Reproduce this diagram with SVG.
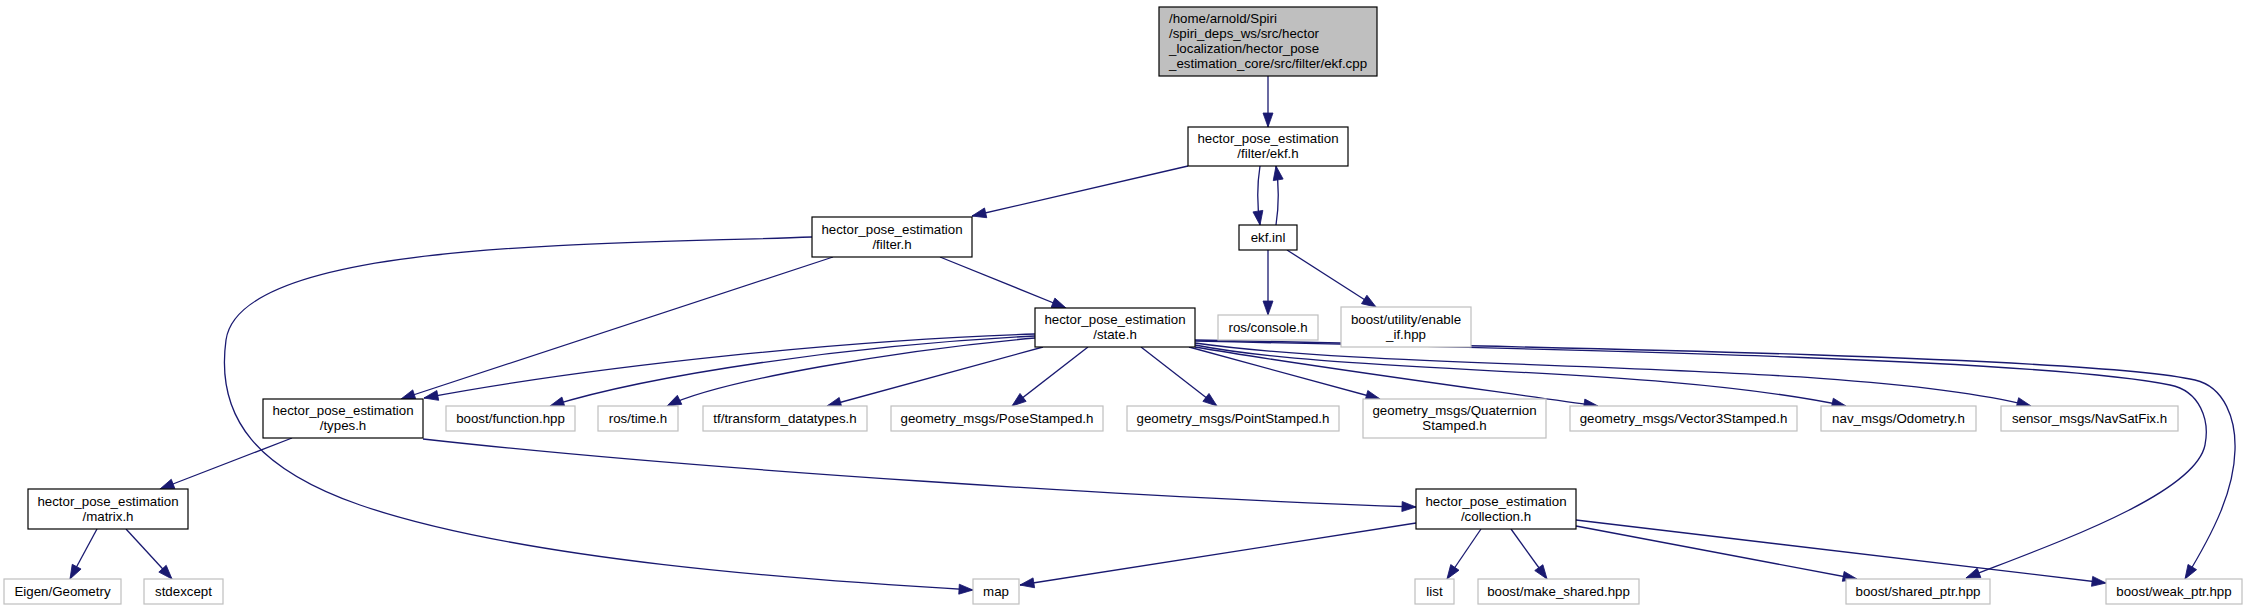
<svg xmlns="http://www.w3.org/2000/svg" width="2248" height="611" viewBox="0 0 2248 611">
<style>
  text { font-family: "Liberation Sans", Arial, Helvetica, sans-serif; font-size: 13.3px; fill: #000; }
  .c { text-anchor: middle; }
  .n rect { fill: #fff; stroke: #000; stroke-width: 1.2; }
  .r rect { fill: #bfbfbf; stroke: #000; stroke-width: 1.2; }
  .g rect { fill: #fff; stroke: #bfbfbf; stroke-width: 1.2; }
  #edges path { fill: none; stroke: #191970; stroke-width: 1.3; marker-end: url(#ah); }
</style>
<defs>
  <marker id="ah" markerWidth="15" markerHeight="11" refX="14" refY="5" orient="auto" markerUnits="userSpaceOnUse" overflow="visible">
    <path d="M0,0 L14,5 L0,10 Z" fill="#191970" stroke="#191970" stroke-width="0.8"/>
  </marker>
</defs>
<rect width="2248" height="611" fill="#fff"/>

<g id="edges">
  <path d="M1268,76 L1268,127"/>
  <path d="M1188,166 L972,216"/>
  <path d="M1260,166 C1257,185 1257,205 1260,225"/>
  <path d="M1276,225 C1279,205 1279,185 1276,166"/>
  <path d="M1268,250 L1268,315"/>
  <path d="M1287,250 L1376,307"/>
  <path d="M940,257 L1066,308"/>
  <path d="M833,257 L401,399"/>
  <path d="M812,237 C600,245 240,240 226,340 C215,420 260,470 360,505 C520,560 800,580 973,590"/>
  <path d="M1035,334 C850,340 600,365 424,398"/>
  <path d="M1035,336 C850,345 650,375 550,406"/>
  <path d="M1035,338 C900,350 720,380 667,406"/>
  <path d="M1043,347 L827,406"/>
  <path d="M1088,347 L1012,406"/>
  <path d="M1141,347 L1217,406"/>
  <path d="M1189,347 L1380,399"/>
  <path d="M1195,347 C1300,365 1450,385 1598,406"/>
  <path d="M1195,345 C1350,375 1650,365 1846,406"/>
  <path d="M1195,343 C1400,372 1850,360 2031,406"/>
  <path d="M1195,341 C1600,350 2050,360 2170,385 C2200,391 2210,420 2205,445 C2195,495 2050,545 1966,578"/>
  <path d="M1195,340 C1600,348 2100,358 2195,380 C2225,387 2236,420 2235,450 C2234,490 2215,530 2185,579"/>
  <path d="M292,438 L160,489"/>
  <path d="M423,439 C700,470 1150,498 1416,507"/>
  <path d="M97,529 L70,579"/>
  <path d="M126,529 L172,579"/>
  <path d="M1416,523 L1020,585"/>
  <path d="M1481,529 L1447,579"/>
  <path d="M1511,529 L1547,579"/>
  <path d="M1576,526 L1857,579"/>
  <path d="M1576,520 L2106,583"/>
</g>

<g id="node-ekf-cpp" class="r">
  <rect x="1159" y="7" width="218" height="69"/>
  <text x="1169" y="23">/home/arnold/Spiri</text>
  <text x="1169" y="38">/spiri_deps_ws/src/hector</text>
  <text x="1169" y="53">_localization/hector_pose</text>
  <text x="1169" y="68">_estimation_core/src/filter/ekf.cpp</text>
</g>
<g id="node-ekf-h" class="n">
  <rect x="1188" y="127" width="160" height="39"/>
  <text class="c" x="1268" y="143">hector_pose_estimation</text>
  <text class="c" x="1268" y="158">/filter/ekf.h</text>
</g>
<g id="node-filter-h" class="n">
  <rect x="812" y="217" width="160" height="40"/>
  <text class="c" x="892" y="234">hector_pose_estimation</text>
  <text class="c" x="892" y="249">/filter.h</text>
</g>
<g id="node-ekf-inl" class="n">
  <rect x="1239" y="225" width="58" height="25"/>
  <text class="c" x="1268" y="242">ekf.inl</text>
</g>
<g id="node-state-h" class="n">
  <rect x="1035" y="308" width="160" height="39"/>
  <text class="c" x="1115" y="324">hector_pose_estimation</text>
  <text class="c" x="1115" y="339">/state.h</text>
</g>
<g id="node-ros-console" class="g">
  <rect x="1218" y="315" width="100" height="25"/>
  <text class="c" x="1268" y="332">ros/console.h</text>
</g>
<g id="node-enable-if" class="g">
  <rect x="1341" y="307" width="130" height="40"/>
  <text class="c" x="1406" y="324">boost/utility/enable</text>
  <text class="c" x="1406" y="339">_if.hpp</text>
</g>
<g id="node-types-h" class="n">
  <rect x="263" y="399" width="160" height="39"/>
  <text class="c" x="343" y="415">hector_pose_estimation</text>
  <text class="c" x="343" y="430">/types.h</text>
</g>
<g id="node-boost-function" class="g">
  <rect x="446" y="406" width="129" height="25"/>
  <text class="c" x="510.5" y="423">boost/function.hpp</text>
</g>
<g id="node-ros-time" class="g">
  <rect x="598" y="406" width="80" height="25"/>
  <text class="c" x="638" y="423">ros/time.h</text>
</g>
<g id="node-tf" class="g">
  <rect x="703" y="406" width="164" height="25"/>
  <text class="c" x="785" y="423">tf/transform_datatypes.h</text>
</g>
<g id="node-pose" class="g">
  <rect x="891" y="406" width="212" height="25"/>
  <text class="c" x="997" y="423">geometry_msgs/PoseStamped.h</text>
</g>
<g id="node-point" class="g">
  <rect x="1127" y="406" width="212" height="25"/>
  <text class="c" x="1233" y="423">geometry_msgs/PointStamped.h</text>
</g>
<g id="node-quat" class="g">
  <rect x="1363" y="399" width="183" height="39"/>
  <text class="c" x="1454.5" y="415">geometry_msgs/Quaternion</text>
  <text class="c" x="1454.5" y="430">Stamped.h</text>
</g>
<g id="node-vector3" class="g">
  <rect x="1570" y="406" width="227" height="25"/>
  <text class="c" x="1683.5" y="423">geometry_msgs/Vector3Stamped.h</text>
</g>
<g id="node-odometry" class="g">
  <rect x="1821" y="406" width="155" height="25"/>
  <text class="c" x="1898.5" y="423">nav_msgs/Odometry.h</text>
</g>
<g id="node-navsatfix" class="g">
  <rect x="2001" y="406" width="177" height="25"/>
  <text class="c" x="2089.5" y="423">sensor_msgs/NavSatFix.h</text>
</g>
<g id="node-matrix-h" class="n">
  <rect x="28" y="489" width="160" height="40"/>
  <text class="c" x="108" y="506">hector_pose_estimation</text>
  <text class="c" x="108" y="521">/matrix.h</text>
</g>
<g id="node-collection-h" class="n">
  <rect x="1416" y="489" width="160" height="40"/>
  <text class="c" x="1496" y="506">hector_pose_estimation</text>
  <text class="c" x="1496" y="521">/collection.h</text>
</g>
<g id="node-eigen" class="g">
  <rect x="4" y="579" width="117" height="25"/>
  <text class="c" x="62.5" y="596">Eigen/Geometry</text>
</g>
<g id="node-stdexcept" class="g">
  <rect x="144" y="579" width="79" height="25"/>
  <text class="c" x="183.5" y="596">stdexcept</text>
</g>
<g id="node-map" class="g">
  <rect x="973" y="579" width="46" height="25"/>
  <text class="c" x="996" y="596">map</text>
</g>
<g id="node-list" class="g">
  <rect x="1415" y="579" width="39" height="25"/>
  <text class="c" x="1434.5" y="596">list</text>
</g>
<g id="node-make-shared" class="g">
  <rect x="1478" y="579" width="161" height="25"/>
  <text class="c" x="1558.5" y="596">boost/make_shared.hpp</text>
</g>
<g id="node-shared-ptr" class="g">
  <rect x="1846" y="579" width="144" height="25"/>
  <text class="c" x="1918" y="596">boost/shared_ptr.hpp</text>
</g>
<g id="node-weak-ptr" class="g">
  <rect x="2106" y="579" width="136" height="25"/>
  <text class="c" x="2174" y="596">boost/weak_ptr.hpp</text>
</g>
</svg>
